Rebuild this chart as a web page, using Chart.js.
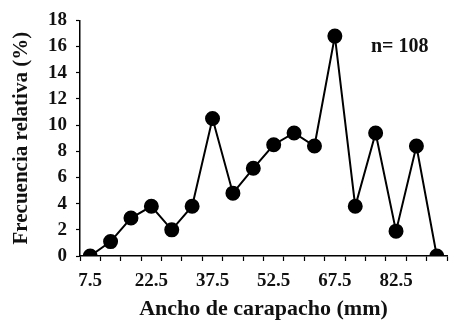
<!DOCTYPE html>
<html>
<head>
<meta charset="utf-8">
<script src="https://cdn.jsdelivr.net/npm/chart.js@4"></script>
<style>
  html, body { margin: 0; padding: 0; background: #ffffff; }
  #wrap { width: 458px; height: 328px; }
</style>
</head>
<body>
<div id="wrap"><canvas id="chart" width="458" height="328"></canvas></div>
<script>
// clases de ancho de carapacho (mm)
const categories = ['7.5', '12.5', '17.5', '22.5', '27.5', '32.5', '37.5', '42.5', '47.5',
                    '52.5', '57.5', '62.5', '67.5', '72.5', '77.5', '82.5', '87.5', '92.5'];
const frecuencia = [0, 1.1, 2.9, 3.8, 2.0, 3.8, 10.5, 4.8, 6.7,
                    8.5, 9.4, 8.4, 16.8, 3.8, 9.4, 1.9, 8.4, 0];
const shownTicks = ['7.5', '22.5', '37.5', '52.5', '67.5', '82.5'];
const nLabel = 'n= 108';

const serif = "'Liberation Serif', 'Times New Roman', serif";

// texto "n= 108" arriba a la derecha
const nPlugin = {
    id: 'nLabel',
    afterDraw(chart) {
        const ctx = chart.ctx;
        const area = chart.chartArea;
        ctx.save();
        ctx.font = "bold 20px " + serif;
        ctx.fillStyle = '#111';
        ctx.textAlign = 'left';
        ctx.textBaseline = 'middle';
        ctx.fillText(nLabel, area.right - 76, area.top + 26);
        ctx.restore();
    }
};

new Chart(document.getElementById('chart'), {
    type: 'line',
    data: {
        labels: categories,
        datasets: [{
            data: frecuencia,
            borderColor: '#000',
            backgroundColor: '#000',
            borderWidth: 2,
            pointRadius: 6.5,
            pointBackgroundColor: '#000',
            pointBorderColor: '#000',
            tension: 0
        }]
    },
    options: {
        responsive: false,
        animation: false,
        layout: { padding: { top: 15, right: 11, left: 0, bottom: 0 } },
        plugins: {
            legend: { display: false },
            tooltip: { enabled: false }
        },
        scales: {
            x: {
                offset: true,
                grid: {
                    offset: true,
                    drawOnChartArea: false,
                    drawTicks: true,
                    tickLength: 5,
                    tickWidth: 1.2,
                    tickColor: '#000'
                },
                border: { color: '#000', width: 1.5 },
                ticks: {
                    autoSkip: false,
                    maxRotation: 0,
                    padding: 9,
                    color: '#111',
                    font: { family: serif, size: 19, weight: 'bold' },
                    callback: function(v, i) {
                        const lab = categories[i];
                        return shownTicks.includes(lab) ? lab : '';
                    }
                },
                title: {
                    display: true,
                    text: 'Ancho de carapacho (mm)',
                    color: '#111',
                    padding: { top: 5, bottom: 5 },
                    font: { family: serif, size: 22, weight: 'bold' }
                },
                afterFit: function(scale) { scale.height = 72; }
            },
            y: {
                min: 0,
                max: 18,
                grid: {
                    drawOnChartArea: false,
                    drawTicks: true,
                    tickLength: 4,
                    tickWidth: 1.2,
                    tickColor: '#000'
                },
                border: { color: '#000', width: 1.5 },
                ticks: {
                    stepSize: 2,
                    padding: 9,
                    color: '#111',
                    font: { family: serif, size: 19, weight: 'bold' }
                },
                title: {
                    display: true,
                    text: 'Frecuencia relativa (%)',
                    color: '#111',
                    padding: { top: 9, bottom: 9 },
                    font: { family: serif, size: 21, weight: 'bold' }
                },
                afterFit: function(scale) { scale.width = 80; }
            }
        }
    },
    plugins: [nPlugin]
});
</script>
</body>
</html>
